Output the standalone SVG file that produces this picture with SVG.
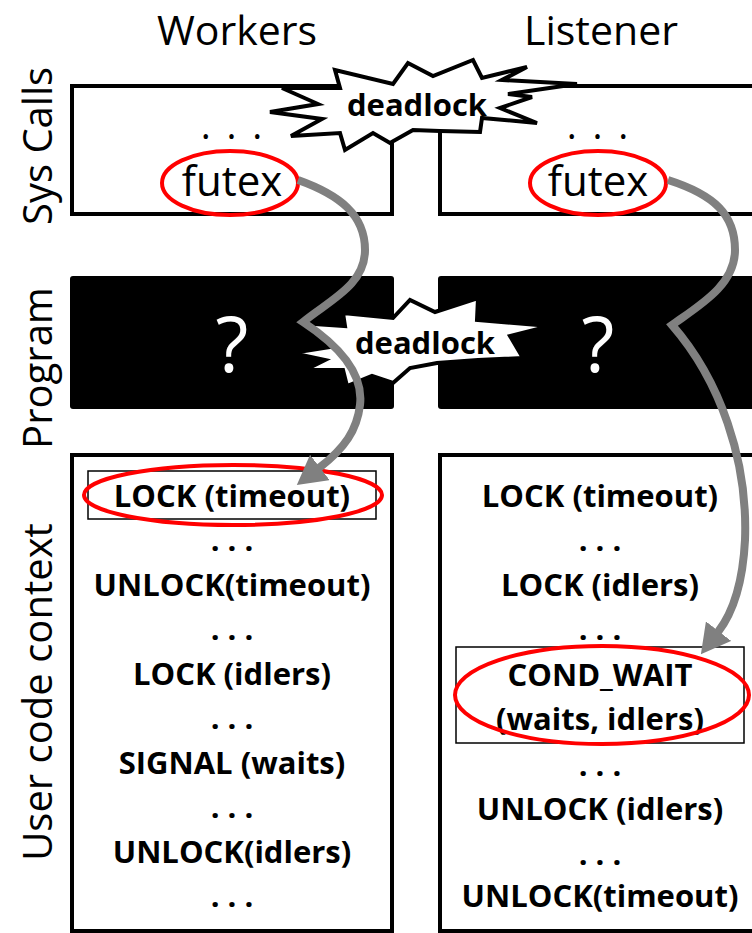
<svg xmlns="http://www.w3.org/2000/svg" width="752" height="933" viewBox="0 0 752 933">
  <style>
    .hdr { font-family: "Open Sans", "Noto Sans", sans-serif; font-size: 41px; fill: #000; text-anchor: middle; }
    .lbl { font-family: "Open Sans", "Noto Sans", sans-serif; font-size: 40px; fill: #000; text-anchor: middle; }
    .sys { font-family: "Open Sans", "Noto Sans", sans-serif; font-size: 42px; fill: #000; text-anchor: middle; }
    .dots { font-family: "Open Sans", "Noto Sans", sans-serif; font-size: 38px; letter-spacing: 3px; fill: #000; text-anchor: middle; }
    .code { font-family: "Open Sans", "Noto Sans", sans-serif; font-size: 31px; font-weight: bold; fill: #000; text-anchor: middle; }
    .q { font-family: "Open Sans", "Noto Sans", sans-serif; font-size: 76px; fill: #fff; text-anchor: middle; }
    .dl { font-family: "Open Sans", "Noto Sans", sans-serif; font-size: 31px; font-weight: bold; fill: #000; text-anchor: middle; }
    .frame { fill: #fff; stroke: #000; stroke-width: 4; }
    .prog { fill: #000; }
    .burst { fill: #fff; stroke: #000; stroke-width: 4; stroke-linejoin: miter; }
    .hl { fill: none; stroke: #f00; stroke-width: 4; }
    .thin { fill: none; stroke: #000; stroke-width: 1.5; }
    .flow { fill: none; stroke: #808080; stroke-width: 8; }
  </style>
  <defs>
    <marker id="head" markerUnits="userSpaceOnUse" markerWidth="30" markerHeight="32" viewBox="0 0 30 32" refX="1" refY="16" orient="auto">
      <path d="M0,0 L29,16 L0,32 z" fill="#808080"/>
    </marker>
  </defs>

  <rect width="752" height="933" fill="#fff"/>

  <!-- column headers -->
  <text class="hdr" x="237" y="45">Workers</text>
  <text class="hdr" x="601" y="45">Listener</text>

  <!-- layer labels -->
  <text class="lbl" transform="translate(52,146) rotate(-90)">Sys Calls</text>
  <text class="lbl" transform="translate(52,368) rotate(-90)">Program</text>
  <text class="lbl" transform="translate(52,692) rotate(-90)">User code context</text>

  <!-- system call layer -->
  <g id="sys-workers">
    <rect class="frame" x="72" y="86" width="320" height="128"/>
    <text class="dots" x="233" y="139">. . .</text>
    <text class="sys" x="232" y="196">futex</text>
    <ellipse class="hl" cx="230" cy="183" rx="68" ry="32"/>
  </g>
  <g id="sys-listener">
    <rect class="frame" x="440" y="86" width="330" height="128"/>
    <text class="dots" x="599" y="139">. . .</text>
    <text class="sys" x="598" y="196">futex</text>
    <ellipse class="hl" cx="598" cy="183" rx="68" ry="32"/>
  </g>
  <g id="sys-deadlock">
    <polygon class="burst" points="270,112 318,104 282,88 340,88 335,70 393,84 408,63 433,76 473,60 482,78 527,67 502,80 577,84 508,94 532,97 500,108 537,123 482,118 480,132 440,131 413,130 390,143 373,133 345,150 340,133 291,136 322,119"/>
    <text class="dl" x="417" y="116">deadlock</text>
  </g>

  <!-- program layer -->
  <g id="prog-workers">
    <rect class="prog" x="70" y="276" width="324" height="133" rx="3"/>
    <text class="q" x="232" y="372">?</text>
  </g>
  <g id="prog-listener">
    <rect class="prog" x="438" y="276" width="330" height="133" rx="3"/>
    <text class="q" x="598" y="372">?</text>
  </g>
  <g id="prog-deadlock">
    <polygon class="burst" stroke-width="3" points="292,353 330,347 300,323 345,326 343,313 393,318 410,300 435,312 478,298 477,320 550,326 510,336 523,358 478,360 437,363 410,368 393,383 372,376 347,386 343,370 305,370 325,360"/>
    <text class="dl" x="425" y="354">deadlock</text>
  </g>

  <!-- user code layer -->
  <g id="user-workers">
    <rect class="frame" x="72" y="455" width="320" height="476"/>
    <rect class="thin" x="88" y="471" width="288" height="48"/>
    <text class="code" x="232" y="507">LOCK (timeout)</text>
    <text class="code" x="232" y="551">. . .</text>
    <text class="code" x="232" y="596">UNLOCK(timeout)</text>
    <text class="code" x="232" y="640">. . .</text>
    <text class="code" x="232" y="685">LOCK (idlers)</text>
    <text class="code" x="232" y="729">. . .</text>
    <text class="code" x="232" y="774">SIGNAL (waits)</text>
    <text class="code" x="232" y="818">. . .</text>
    <text class="code" x="232" y="863">UNLOCK(idlers)</text>
    <text class="code" x="232" y="907">. . .</text>
    <ellipse class="hl" cx="233" cy="495" rx="149" ry="30"/>
  </g>
  <g id="user-listener">
    <rect class="frame" x="440" y="455" width="330" height="476"/>
    <rect class="thin" x="456" y="647" width="288" height="96"/>
    <text class="code" x="600" y="507">LOCK (timeout)</text>
    <text class="code" x="600" y="551">. . .</text>
    <text class="code" x="600" y="596">LOCK (idlers)</text>
    <text class="code" x="600" y="640">. . .</text>
    <text class="code" x="600" y="686">COND_WAIT</text>
    <text class="code" x="600" y="730">(waits, idlers)</text>
    <text class="code" x="600" y="776">. . .</text>
    <text class="code" x="600" y="820">UNLOCK (idlers)</text>
    <text class="code" x="600" y="865">. . .</text>
    <text class="code" x="600" y="907">UNLOCK(timeout)</text>
    <ellipse class="hl" cx="602" cy="695" rx="147" ry="49"/>
  </g>

  <!-- connectors: futex call traced down to the blocking user call -->
  <g id="connectors">
    <path class="flow" marker-end="url(#head)" d="M298,180 C340,195 365,215 365,250 C365,285 330,300 303,322 C338,345 364,372 360,405 C357,430 345,448 319,468"/>
    <path class="flow" marker-end="url(#head)" d="M668,180 C715,195 735,215 735,250 C735,285 700,305 672,325 C720,380 748,460 745,540 C743,580 735,610 718,632"/>
  </g>
</svg>
